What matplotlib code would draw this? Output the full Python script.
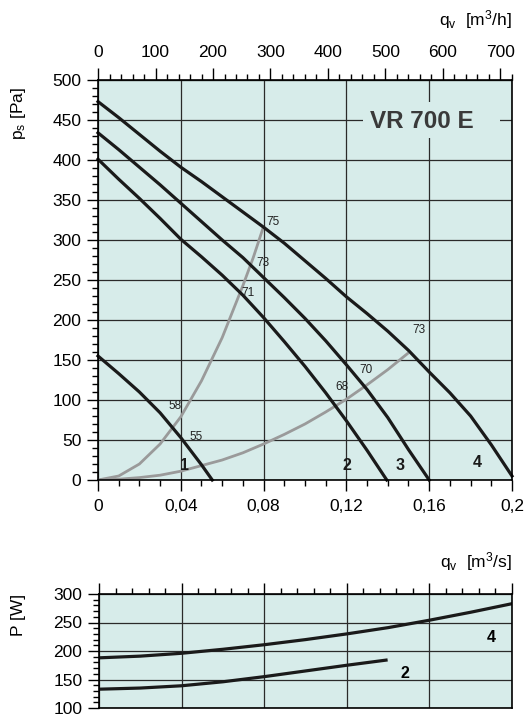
import matplotlib
matplotlib.use("Agg")
import matplotlib.pyplot as plt
from matplotlib.ticker import MultipleLocator, FixedLocator
from matplotlib.patches import Rectangle

plt.rcParams['font.family'] = ['Liberation Sans', 'DejaVu Sans']
plt.rcParams['mathtext.default'] = 'regular'

# fan curves, static pressure [Pa] vs flow [m3/s]
q1 = [0, 0.01, 0.02, 0.03, 0.04, 0.05, 0.0552]
ps1 = [155, 133, 110, 84, 53, 19, 0]

q2 = [0, 0.01, 0.02, 0.03, 0.04, 0.05, 0.06, 0.07, 0.08, 0.09, 0.10, 0.11, 0.12, 0.13, 0.1395]
ps2 = [401, 376, 352, 327, 301, 279, 256, 231, 203, 173, 142, 109, 74, 37, 0]

q3 = [0, 0.01, 0.02, 0.03, 0.04, 0.05, 0.06, 0.07, 0.08, 0.09, 0.10, 0.11, 0.12, 0.13, 0.14, 0.15, 0.16]
ps3 = [434, 413, 391, 369, 346, 323, 300, 278, 253, 228, 202, 174, 144, 113, 78, 38, 0]

q4 = [0, 0.01, 0.02, 0.03, 0.04, 0.05, 0.06, 0.07, 0.08, 0.09, 0.10,
      0.11, 0.12, 0.13, 0.14, 0.15, 0.16, 0.17, 0.18, 0.19, 0.20]
ps4 = [473, 453, 432, 411, 391, 373, 354, 335, 316, 296, 274,
       252, 229, 208, 186, 162, 135, 109, 80, 44, 5]

# system curves (grey)
qa = [0, 0.01, 0.02, 0.03, 0.04, 0.05, 0.06, 0.07, 0.075, 0.08]
psa = [0, 5, 20, 45, 79, 124, 178, 243, 278, 317]
qb = [0, 0.01, 0.02, 0.03, 0.04, 0.05, 0.06, 0.07, 0.08, 0.09, 0.10, 0.11, 0.12, 0.13, 0.14, 0.15]
psb = [0, 1, 3, 6, 11, 18, 25, 34, 45, 57, 70, 85, 101, 119, 138, 159]

# sound level labels
snd_text = ['75', '73', '71', '58', '55', '68', '70', '73']
snd_q = [0.0845, 0.0795, 0.0725, 0.0372, 0.0473, 0.1177, 0.1296, 0.1551]
snd_ps = [322, 271, 234, 92, 54, 116, 138, 187]

curve_names = ['1', '2', '3', '4']
curve_q = [0.042, 0.1205, 0.1459, 0.183]
curve_ps = [9, 9, 9, 13]

# axis ticks
qs_ticks = [0, 0.04, 0.08, 0.12, 0.16, 0.2]
qs_labels = ['0', '0,04', '0,08', '0,12', '0,16', '0,2']
qh_ticks = [0, 100, 200, 300, 400, 500, 600, 700]

# power curves [W]
pq4 = [0, 0.02, 0.04, 0.06, 0.08, 0.10, 0.12, 0.14, 0.16, 0.18, 0.20]
p4 = [188, 191, 196, 203, 211, 220, 230, 241, 254, 268, 283]
pq2 = [0, 0.02, 0.04, 0.06, 0.08, 0.10, 0.12, 0.139]
p2 = [133, 135, 139, 146, 155, 165, 175, 184]

bg = '#d7ecea'
gridc = '#2a2a2a'
W, H = 527, 717

fig = plt.figure(figsize=(W / 100, H / 100), dpi=100)

def px_axes(x0, y0, x1, y1):
    return fig.add_axes([x0 / W, 1 - y1 / H, (x1 - x0) / W, (y1 - y0) / H])

ax = px_axes(98, 80, 512, 480)
ax.set_facecolor(bg)
ax.set_xlim(0, 0.2)
ax.set_ylim(0, 500)
ax.set_axisbelow(True)
ax.set_xticks(qs_ticks)
ax.set_xticklabels(qs_labels)
ax.xaxis.set_minor_locator(MultipleLocator(0.01))
ax.yaxis.set_major_locator(MultipleLocator(50))
ax.yaxis.set_minor_locator(MultipleLocator(10))
ax.grid(True, color=gridc, lw=0.9)
ax.tick_params(which='major', length=8, width=1, labelsize=12.5, pad=4)
ax.tick_params(which='minor', length=4, width=1)
ax.tick_params(axis='x', which='major', pad=6)
for s in ax.spines.values():
    s.set_linewidth(1.2)

ax.add_patch(Rectangle((0.128, 427), 0.0662, 46, facecolor=bg, edgecolor='none', zorder=1))
ax.text(0.1565, 448, 'VR 700 E', fontsize=17.5, fontweight='bold', color='#3a3a3a',
        ha='center', va='center', zorder=3)

for qq, pp in [(qa, psa), (qb, psb)]:
    ax.plot(qq, pp, color='#9a9a9a', lw=2.0, zorder=2, solid_capstyle='butt')
for qq, pp in [(q1, ps1), (q2, ps2), (q3, ps3), (q4, ps4)]:
    ax.plot(qq, pp, color='#1a1a1a', lw=2.3, zorder=2.5, clip_on=False)

for t, x, y in zip(snd_text, snd_q, snd_ps):
    ax.text(x, y, t, fontsize=8.5, color='#222222', ha='center', va='center', zorder=4)
for t, x, y in zip(curve_names, curve_q, curve_ps):
    ax.text(x, y, t, fontsize=11.5, fontweight='bold', color='#1a1a1a',
            ha='center', va='bottom', zorder=4)

sec = ax.secondary_xaxis('top', functions=(lambda q: q * 3600, lambda m: m / 3600))
sec.xaxis.set_major_locator(FixedLocator(qh_ticks))
sec.xaxis.set_minor_locator(MultipleLocator(20))
sec.tick_params(which='major', length=8.5, width=1, labelsize=12.5, pad=6)
sec.tick_params(which='minor', length=4, width=1)

# lower: power
ax2 = px_axes(99, 594, 512, 708)
ax2.set_facecolor(bg)
ax2.set_xlim(0, 0.2)
ax2.set_ylim(100, 300)
ax2.set_axisbelow(True)
ax2.set_xticks(qs_ticks)
ax2.xaxis.set_minor_locator(MultipleLocator(0.008))
ax2.yaxis.set_major_locator(MultipleLocator(50))
ax2.yaxis.set_minor_locator(MultipleLocator(10))
ax2.grid(True, color=gridc, lw=0.9)
ax2.tick_params(axis='x', which='both', bottom=False, labelbottom=False, top=True)
ax2.tick_params(which='major', length=8, width=1, labelsize=12.5, pad=4)
ax2.tick_params(which='minor', length=4, width=1)
for s in ax2.spines.values():
    s.set_linewidth(1.2)
ax2.plot(pq4, p4, color='#1a1a1a', lw=2.3)
ax2.plot(pq2, p2, color='#1a1a1a', lw=2.3)
ax2.text(0.190, 224, '4', fontsize=11.5, fontweight='bold', ha='center', va='center')
ax2.text(0.148, 160, '2', fontsize=11.5, fontweight='bold', ha='center', va='center')

# axis titles
fig.text(18 / W, 1 - 114 / H, 'p$_{s}$ [Pa]', rotation=90, fontsize=12.5,
         ha='center', va='center')
fig.text(18 / W, 1 - 615 / H, 'P [W]', rotation=90, fontsize=12.5,
         ha='center', va='center')
fig.text(512 / W, 1 - 20 / H, 'q$_{v}$  [m$^{3}$/h]', fontsize=12.5,
         ha='right', va='center')
fig.text(512 / W, 1 - 562 / H, 'q$_{v}$  [m$^{3}$/s]', fontsize=12.5,
         ha='right', va='center')

fig.savefig('out.png', dpi=100)
